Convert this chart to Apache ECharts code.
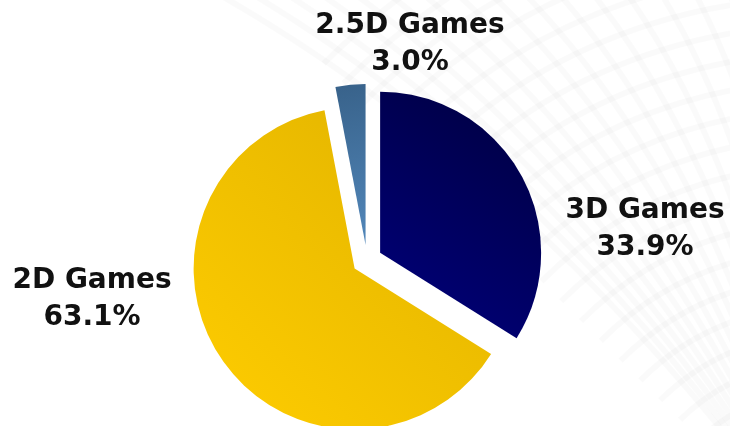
<!DOCTYPE html>
<html>
<head>
<meta charset="utf-8">
<script src="https://cdn.jsdelivr.net/npm/echarts@6/dist/echarts.min.js"></script>
<style>
  html, body { margin: 0; padding: 0; background: #ffffff; }
  #chart { width: 730px; height: 426px; }
</style>
</head>
<body>
<div id="chart"></div>
<script>
// Share of games by rendering style (percent)
const categories = ['3D Games', '2D Games', '2.5D Games'];
const shares = [33.9, 63.1, 3.0];

// Slice fills: linear gradients, light corner -> dark corner
const sliceFills = [
  { x: 0, y: 1, x2: 1, y2: 0, from: '#00007e', to: '#00003e' },
  { x: 0, y: 1, x2: 1, y2: 0, from: '#ffcd00', to: '#e0b200' },
  { x: 0, y: 0, x2: 1, y2: 1, from: '#38628a', to: '#5287ba' }
];

// Where each two-line label block is centred
const labelAnchors = [[645, 229], [92, 299], [410, 44]];

// Faint, soft wire-mesh backdrop sweeping in from the upper right
function meshBackdrop() {
  const els = [];
  const stroke = 'rgba(0,0,0,0.018)';
  const fx = 820, fy = 560;
  // strands converging towards the lower right (quadratic curves)
  for (let i = 0; i < 18; i++) {
    const sx = 220 + i * 34;
    els.push({
      type: 'bezierCurve',
      shape: { x1: sx, y1: -5, cpx1: (sx + fx) / 2 + 40, cpy1: 190, x2: fx, y2: fy },
      style: { stroke: stroke, lineWidth: 6, fill: null },
      silent: true
    });
  }
  // rings across the strands
  for (let j = 0; j < 20; j++) {
    const r = 170 + j * 28;
    els.push({
      type: 'arc',
      shape: { cx: fx, cy: fy, r: r, startAngle: Math.PI * 1.25, endAngle: Math.PI * 1.56, clockwise: true },
      style: { stroke: stroke, lineWidth: 6, fill: null },
      silent: true
    });
  }
  return els;
}

// Two-line slice labels: name and share
function sliceLabels() {
  return categories.map((name, i) => ({
    type: 'text',
    x: labelAnchors[i][0],
    y: labelAnchors[i][1],
    z: 10,
    silent: true,
    style: {
      text: name + '\n' + shares[i].toFixed(1) + '%',
      fontFamily: 'DejaVu Sans',
      fontWeight: 'bold',
      fontSize: 28,
      lineHeight: 37,
      fill: '#111111',
      align: 'center',
      verticalAlign: 'middle'
    }
  }));
}

const chart = echarts.init(document.getElementById('chart'), null, { renderer: 'canvas' });

chart.setOption({
  animation: false,
  backgroundColor: '#ffffff',
  graphic: [
    { type: 'group', silent: true, z: -10, children: meshBackdrop() },
    { type: 'group', silent: true, z: 10, children: sliceLabels() }
  ],
  series: [{
    type: 'pie',
    center: [367, 260],
    radius: 161,
    startAngle: 90,
    clockwise: true,
    selectedMode: 'multiple',
    selectedOffset: 15,
    emphasis: { disabled: true },
    label: { show: false },
    labelLine: { show: false },
    data: categories.map((name, i) => ({
      name: name,
      value: shares[i],
      selected: true,
      itemStyle: {
        color: new echarts.graphic.LinearGradient(
          sliceFills[i].x, sliceFills[i].y, sliceFills[i].x2, sliceFills[i].y2,
          [{ offset: 0, color: sliceFills[i].from }, { offset: 1, color: sliceFills[i].to }]
        )
      }
    }))
  }]
});
</script>
</body>
</html>
